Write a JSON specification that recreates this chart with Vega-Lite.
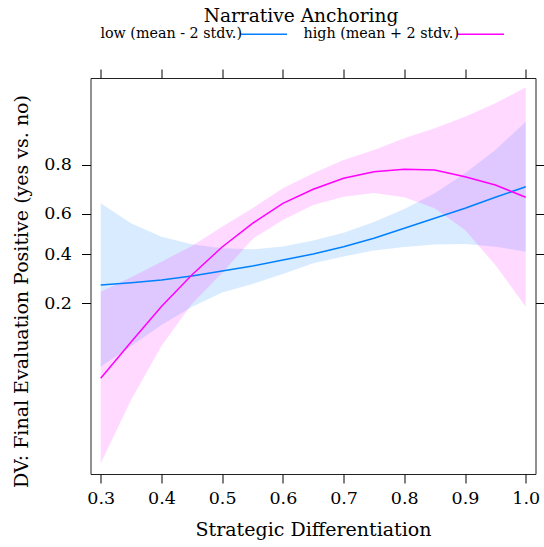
{
  "$schema": "https://vega.github.io/schema/vega-lite/v6.json",
  "width": 445,
  "height": 396,
  "autosize": "none",
  "padding": {"left": 90.5, "top": 78, "right": 8.5, "bottom": 73},
  "background": "white",
  "title": {"text": "Narrative Anchoring", "anchor": "middle", "frame": "group", "dx": -12, "offset": -31,
    "baseline": "alphabetic", "font": "DejaVu Serif", "fontSize": 18.6, "fontWeight": "normal", "color": "#000"},
  "config": {
    "font": "DejaVu Serif",
    "view": {"stroke": "#222", "strokeWidth": 1},
    "axis": {
      "domain": false, "grid": false, "ticks": true, "tickColor": "#000", "tickSize": 9, "tickWidth": 1,
      "labelFont": "DejaVu Serif", "labelFontSize": 17.5, "labelColor": "#000",
      "titleFont": "DejaVu Serif", "titleFontSize": 19, "titleFontWeight": "normal", "titleColor": "#000"
    }
  },
  "data": {"values": [
    {"level": "low (mean - 2 stdv.)", "x": 0.30, "fit": -1.02, "lower": -2.654, "upper": 0.614},
    {"level": "low (mean - 2 stdv.)", "x": 0.35, "fit": -0.974, "lower": -2.24, "upper": 0.214},
    {"level": "low (mean - 2 stdv.)", "x": 0.40, "fit": -0.92, "lower": -1.82, "upper": -0.054},
    {"level": "low (mean - 2 stdv.)", "x": 0.45, "fit": -0.84, "lower": -1.46, "upper": -0.206},
    {"level": "low (mean - 2 stdv.)", "x": 0.50, "fit": -0.74, "lower": -1.17, "upper": -0.286},
    {"level": "low (mean - 2 stdv.)", "x": 0.55, "fit": -0.64, "lower": -1.0, "upper": -0.306},
    {"level": "low (mean - 2 stdv.)", "x": 0.60, "fit": -0.52, "lower": -0.80, "upper": -0.25},
    {"level": "low (mean - 2 stdv.)", "x": 0.65, "fit": -0.40, "lower": -0.586, "upper": -0.13},
    {"level": "low (mean - 2 stdv.)", "x": 0.70, "fit": -0.254, "lower": -0.45, "upper": 0.026},
    {"level": "low (mean - 2 stdv.)", "x": 0.75, "fit": -0.086, "lower": -0.33, "upper": 0.24},
    {"level": "low (mean - 2 stdv.)", "x": 0.80, "fit": 0.114, "lower": -0.26, "upper": 0.50},
    {"level": "low (mean - 2 stdv.)", "x": 0.85, "fit": 0.314, "lower": -0.21, "upper": 0.814},
    {"level": "low (mean - 2 stdv.)", "x": 0.90, "fit": 0.514, "lower": -0.20, "upper": 1.214},
    {"level": "low (mean - 2 stdv.)", "x": 0.95, "fit": 0.734, "lower": -0.254, "upper": 1.68},
    {"level": "low (mean - 2 stdv.)", "x": 1.00, "fit": 0.946, "lower": -0.354, "upper": 2.246},
    {"level": "high (mean + 2 stdv.)", "x": 0.30, "fit": -2.886, "lower": -4.586, "upper": -1.154},
    {"level": "high (mean + 2 stdv.)", "x": 0.35, "fit": -2.16, "lower": -3.32, "upper": -0.866},
    {"level": "high (mean + 2 stdv.)", "x": 0.40, "fit": -1.45, "lower": -2.24, "upper": -0.554},
    {"level": "high (mean + 2 stdv.)", "x": 0.45, "fit": -0.82, "lower": -1.40, "upper": -0.24},
    {"level": "high (mean + 2 stdv.)", "x": 0.50, "fit": -0.26, "lower": -0.78, "upper": 0.146},
    {"level": "high (mean + 2 stdv.)", "x": 0.55, "fit": 0.214, "lower": -0.10, "upper": 0.514},
    {"level": "high (mean + 2 stdv.)", "x": 0.60, "fit": 0.614, "lower": 0.28, "upper": 0.914},
    {"level": "high (mean + 2 stdv.)", "x": 0.65, "fit": 0.894, "lower": 0.58, "upper": 1.214},
    {"level": "high (mean + 2 stdv.)", "x": 0.70, "fit": 1.114, "lower": 0.746, "upper": 1.48},
    {"level": "high (mean + 2 stdv.)", "x": 0.75, "fit": 1.246, "lower": 0.82, "upper": 1.68},
    {"level": "high (mean + 2 stdv.)", "x": 0.80, "fit": 1.294, "lower": 0.734, "upper": 1.914},
    {"level": "high (mean + 2 stdv.)", "x": 0.85, "fit": 1.28, "lower": 0.514, "upper": 2.114},
    {"level": "high (mean + 2 stdv.)", "x": 0.90, "fit": 1.146, "lower": 0.08, "upper": 2.346},
    {"level": "high (mean + 2 stdv.)", "x": 0.95, "fit": 0.98, "lower": -0.62, "upper": 2.614},
    {"level": "high (mean + 2 stdv.)", "x": 1.00, "fit": 0.734, "lower": -1.454, "upper": 2.934}
  ]},
  "layer": [
    {
      "mark": {"type": "area", "fillOpacity": 0.15, "interpolate": "linear"},
      "encoding": {
        "x": {"field": "x", "type": "quantitative",
          "scale": {"domain": [0.2832, 1.0161], "nice": false, "zero": false},
          "axis": {"orient": "bottom", "values": [0.3, 0.4, 0.5, 0.6, 0.7, 0.8, 0.9, 1.0], "format": ".1f",
            "title": "Strategic Differentiation", "labelPadding": 6, "titlePadding": 14}},
        "y": {"field": "lower", "type": "quantitative",
          "scale": {"domain": [-4.8, 3.12], "nice": false, "zero": false},
          "axis": {"orient": "left", "values": [-1.3863, -0.4055, 0.4055, 1.3863],
            "labelExpr": "format(1 / (1 + exp(-datum.value)), '.1f')",
            "title": "DV: Final Evaluation Positive (yes vs. no)", "labelPadding": 10, "titlePadding": 12, "titleY": 213}},
        "y2": {"field": "upper"},
        "detail": {"field": "level", "type": "nominal"},
        "fill": {"condition": {"test": "datum.level === 'low (mean - 2 stdv.)'", "value": "#0080ff"}, "value": "#ff00ff"}
      }
    },
    {
      "mark": {"type": "line", "strokeWidth": 1.5, "interpolate": "linear"},
      "encoding": {
        "x": {"field": "x", "type": "quantitative",
          "axis": {"orient": "top", "values": [0.3, 0.4, 0.5, 0.6, 0.7, 0.8, 0.9, 1.0], "labels": false, "title": null}},
        "y": {"field": "fit", "type": "quantitative",
          "axis": {"orient": "right", "values": [-1.3863, -0.4055, 0.4055, 1.3863], "labels": false, "title": null}},
        "stroke": {"field": "level", "type": "nominal",
          "scale": {"domain": ["low (mean - 2 stdv.)", "high (mean + 2 stdv.)"], "range": ["#0080ff", "#ff00ff"]},
          "legend": {"orient": "none", "legendX": 149.5, "legendY": -68, "direction": "horizontal",
            "title": null,
            "labelFontSize": 14.3, "labelFont": "DejaVu Serif", "labelColor": "#000",
            "labelAlign": "right", "labelOffset": -46, "labelLimit": 300,
            "symbolType": "stroke", "symbolSize": 2116, "symbolStrokeWidth": 1.5,
            "columnPadding": 13, "padding": 0}}
      }
    }
  ],
  "resolve": {"axis": {"x": "independent", "y": "independent"}}
}
